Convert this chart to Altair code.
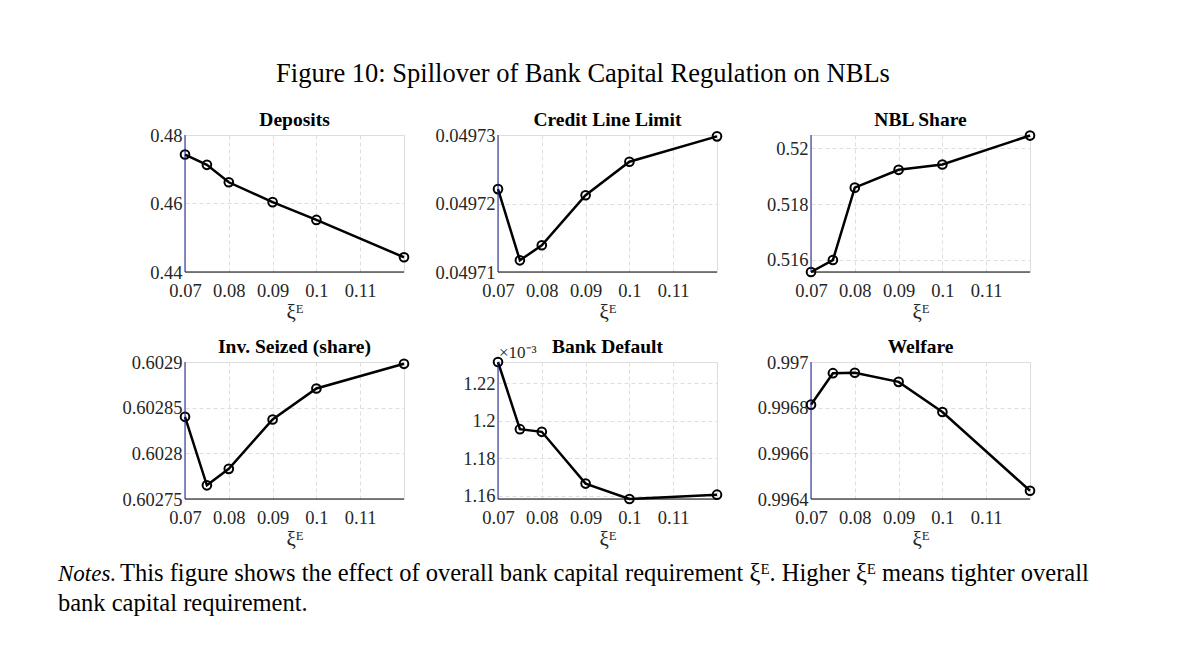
import altair as alt
import pandas as pd

xi = [0.07, 0.075, 0.08, 0.09, 0.10, 0.12]
x_ticks = [0.07, 0.08, 0.09, 0.10, 0.11]

deposits = [0.4743, 0.4713, 0.4662, 0.4604, 0.4552, 0.4443]
credit_line = [0.0497221, 0.0497117, 0.0497139, 0.0497212, 0.0497261, 0.0497298]
nbl_share = [0.51556, 0.51599, 0.51859, 0.51923, 0.51942, 0.52046]
inv_seized = [0.602840, 0.602765, 0.602783, 0.602837, 0.602871, 0.602898]
bank_default_e3 = [1.2312, 1.1955, 1.1941, 1.1666, 1.1584, 1.1607]
welfare = [0.996813, 0.996951, 0.996953, 0.996913, 0.996781, 0.996436]

panels = [
    ("Deposits", deposits, [0.44, 0.48], [0.44, 0.46, 0.48]),
    ("Credit Line Limit", credit_line, [0.04971, 0.04973], [0.04971, 0.04972, 0.04973]),
    ("NBL Share", nbl_share, [0.51556, 0.52048], [0.516, 0.518, 0.52]),
    ("Inv. Seized (share)", inv_seized, [0.60275, 0.6029], [0.60275, 0.6028, 0.60285, 0.6029]),
    ("Bank Default", bank_default_e3, [1.1584, 1.2312], [1.16, 1.18, 1.2, 1.22]),
    ("Welfare", welfare, [0.9964, 0.997], [0.9964, 0.9966, 0.9968, 0.997]),
]

fig_title = "Figure 10: Spillover of Bank Capital Regulation on NBLs"
notes_italic = "Notes."
notes_line1 = "This figure shows the effect of overall bank capital requirement ξᴱ. Higher ξᴱ means tighter overall"
notes_line2 = "bank capital requirement."
x_label = "ξᴱ"
scale_label = "×10⁻³"

SERIF = "Liberation Serif"
W, H = 219, 137


def text_layer(t, x, y, size, align="center", weight="normal", style="normal", color="black"):
    return alt.Chart(pd.DataFrame({"t": [t]})).mark_text(
        font=SERIF, fontSize=size, align=align, baseline="middle", color=color,
        fontWeight=weight, fontStyle=style
    ).encode(x=alt.value(x), y=alt.value(y), text="t:N")


def frame_line(x, x2, y, y2, color):
    return alt.Chart(pd.DataFrame({"k": [0]})).mark_rule(color=color, strokeWidth=1).encode(
        x=alt.value(x), x2=alt.value(x2), y=alt.value(y), y2=alt.value(y2))


def panel(i, name, vals, dom, ticks):
    df = pd.DataFrame({"x": xi, "y": vals})
    base = alt.Chart(df).encode(
        x=alt.X("x:Q",
                scale=alt.Scale(domain=[0.07, 0.12], nice=False, zero=False),
                axis=alt.Axis(values=x_ticks, format="~g", title=x_label,
                              labelFont=SERIF, labelFontSize=18.5, labelColor="#262626",
                              labelFlush=False, labelOverlap=False,
                              titleFont=SERIF, titleFontSize=21, titleFontWeight="normal",
                              titleColor="#262626", titlePadding=2,
                              labelPadding=9, ticks=False, domain=False,
                              grid=True, gridDash=[4, 3], gridColor="#dedede")),
        y=alt.Y("y:Q",
                scale=alt.Scale(domain=dom, nice=False, zero=False),
                axis=alt.Axis(values=ticks, format="~g", title=None,
                              labelFont=SERIF, labelFontSize=18.5, labelColor="#262626",
                              labelFlush=False, labelOverlap=False,
                              labelPadding=3, ticks=False, domain=False,
                              grid=True, gridDash=[4, 3], gridColor="#dedede")),
    )
    line = base.mark_line(color="black", strokeWidth=2.5)
    pts = base.mark_point(shape="circle", filled=False, color="black",
                          strokeWidth=2, size=75, opacity=1)
    layers = [line, pts,
              frame_line(0, W, H, H, "#000000"),
              frame_line(0, 0, 0, H, "#1a1a8c"),
              text_layer(name, W / 2, -15, 19.5, weight="bold")]
    if name == "Bank Default":
        layers.append(text_layer(scale_label, 1, -9, 17, align="left", color="#262626"))
    if i == 1:
        layers.append(text_layer(fig_title, 85, -61, 26.5))
    if i == 3:
        layers.append(text_layer(notes_italic, -127, 212, 23, align="left", style="italic"))
        layers.append(text_layer(notes_line1, -65, 212, 24.5, align="left"))
        layers.append(text_layer(notes_line2, -127, 242, 24.5, align="left"))
    return alt.layer(*layers).properties(width=W, height=H)


charts = [panel(i, *p) for i, p in enumerate(panels)]

chart = alt.concat(*charts, columns=3, spacing={"row": 90, "column": 94},
                   bounds="flush").properties(
    padding={"left": 49, "top": 52, "right": 10, "bottom": 10}
).configure_view(stroke=None).configure(background="white")

chart.save("out.html", embed_options={"renderer": "svg", "actions": False})
